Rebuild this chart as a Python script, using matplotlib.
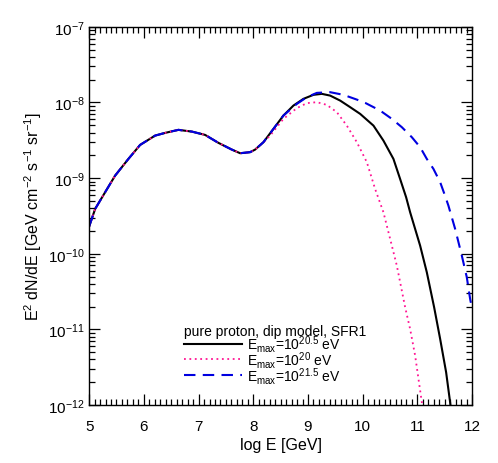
import numpy as np
import matplotlib.pyplot as plt
from matplotlib.ticker import MultipleLocator, LogLocator, NullFormatter

# shared low-energy part (log E [GeV], log10 of E^2 dN/dE)
common_x = [5.0, 5.11, 5.292, 5.475, 5.718, 5.932, 6.206, 6.389, 6.632, 6.877,
            7.12, 7.363, 7.608, 7.76, 7.943, 8.034, 8.186]
common_logy = [-9.64, -9.407, -9.187, -8.967, -8.746, -8.561, -8.438, -8.402, -8.362,
               -8.385, -8.429, -8.534, -8.623, -8.671, -8.657, -8.623, -8.525]

# E_max = 10^20.5 eV
black_x = [8.369, 8.551, 8.734, 8.917, 9.1, 9.253, 9.405, 9.588, 9.771, 9.954, 10.197,
           10.379, 10.562, 10.684, 10.794, 10.867, 11.05, 11.172, 11.306, 11.416,
           11.525, 11.598, 11.62]
black_logy = [-8.349, -8.173, -8.041, -7.952, -7.899, -7.886, -7.909, -7.975, -8.062,
              -8.151, -8.306, -8.504, -8.746, -9.011, -9.253, -9.451, -9.893, -10.245,
              -10.708, -11.127, -11.567, -11.964, -12.1]

# E_max = 10^20 eV
pink_x = [8.308, 8.551, 8.796, 8.979, 9.162, 9.345, 9.527, 9.71, 9.893, 10.076,
          10.227, 10.379, 10.502, 10.624, 10.776, 10.867, 10.959, 11.081, 11.1]
pink_logy = [-8.438, -8.217, -8.075, -8.009, -7.996, -8.032, -8.128, -8.306, -8.525,
             -8.79, -9.143, -9.451, -9.804, -10.157, -10.708, -10.995, -11.348,
             -11.964, -12.1]

# E_max = 10^21.5 eV
blue_x = [8.369, 8.551, 8.796, 8.979, 9.162, 9.405, 9.648, 9.893, 10.045, 10.319,
          10.533, 10.716, 10.898, 11.05, 11.172, 11.293, 11.416, 11.489, 11.567,
          11.69, 11.812, 11.903, 11.964, 12.0]
blue_logy = [-8.349, -8.173, -8.019, -7.93, -7.873, -7.864, -7.899, -7.962, -8.005,
             -8.107, -8.217, -8.327, -8.459, -8.591, -8.746, -8.878, -9.054, -9.2,
             -9.364, -9.672, -10.025, -10.311, -10.598, -10.73]

labels = [r'E$_{\rm max}$=10$^{20.5}$ eV',
          r'E$_{\rm max}$=10$^{20}$ eV',
          r'E$_{\rm max}$=10$^{21.5}$ eV']
legend_title = 'pure proton, dip model, SFR1'

plt.rcParams['font.family'] = ['Liberation Sans', 'DejaVu Sans']
plt.rcParams['mathtext.fontset'] = 'custom'
plt.rcParams['mathtext.rm'] = 'Liberation Sans'
plt.rcParams['mathtext.it'] = 'Liberation Sans:italic'
plt.rcParams['mathtext.bf'] = 'Liberation Sans:bold'

fig = plt.figure(figsize=(4.98, 4.64), dpi=100)
ax = fig.add_axes([0.179, 0.125, 0.769, 0.815])

series = [
    (black_x, black_logy, dict(color='black', lw=1.5, ls='-')),
    (pink_x, pink_logy, dict(color='#ff1493', lw=1.3, ls=(0, (1, 2)))),
    (blue_x, blue_logy, dict(color='#0000e0', lw=1.5, ls=(0, (5.5, 3.5)))),
]
for (tx, ty, style), lab in zip(series, labels):
    x = np.array(common_x + tx)
    y = 10 ** np.array(common_logy + ty)
    ax.plot(x, y, label=lab, **style)

ax.set_yscale('log')
ax.set_xlim(5, 12)
ax.set_ylim(1e-12, 1e-7)
ax.xaxis.set_major_locator(MultipleLocator(1))
ax.xaxis.set_minor_locator(MultipleLocator(0.1))
ax.yaxis.set_major_locator(LogLocator(base=10, numticks=10))
ax.yaxis.set_minor_locator(LogLocator(base=10, subs=np.arange(2, 10), numticks=20))
ax.yaxis.set_minor_formatter(NullFormatter())
ax.tick_params(which='both', direction='in', top=True, right=True, labelsize=11,
               width=0.9)
ax.tick_params(which='major', length=8)
ax.tick_params(which='minor', length=4)
ax.tick_params(axis='x', which='major', pad=10)
ax.tick_params(axis='y', which='major', pad=3)
for s in ax.spines.values():
    s.set_linewidth(1.0)

ax.set_xlabel('log E [GeV]', fontsize=11.5, labelpad=3)
ax.set_ylabel(r'E$^2$ dN/dE [GeV cm$^{-2}$ s$^{-1}$ sr$^{-1}$]', fontsize=11.5,
              labelpad=3)

leg = ax.legend(loc='upper left', bbox_to_anchor=(0.222, 0.24), frameon=False,
                title=legend_title, fontsize=10, title_fontsize=10,
                handlelength=4.2, handletextpad=0.35, labelspacing=-0.37,
                borderpad=0.2)
leg._legend_box.align = 'left'

fig.savefig('out.png', dpi=100)
